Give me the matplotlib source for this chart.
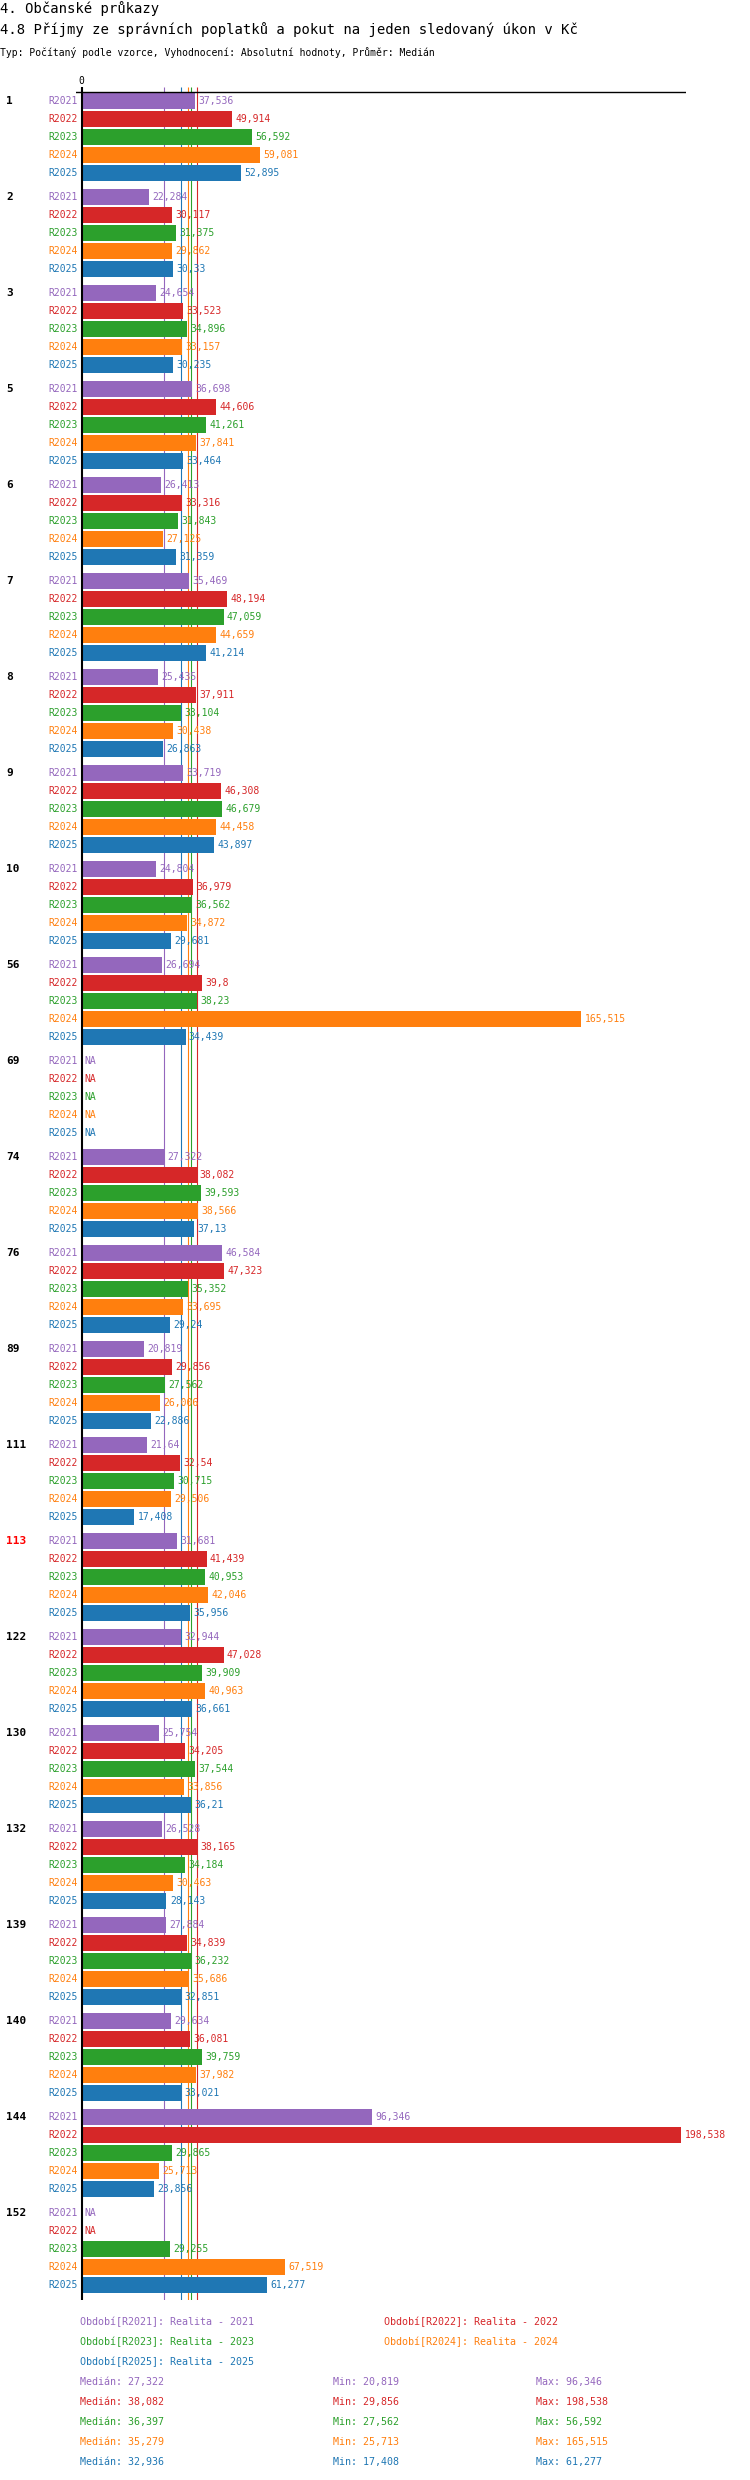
import numpy as np
import matplotlib
matplotlib.use('Agg')
import matplotlib.pyplot as plt

plt.rcParams['font.family'] = ['DejaVu Sans Mono']

# data
groups = ['1', '2', '3', '5', '6', '7', '8', '9', '10', '56', '69', '74', '76',
          '89', '111', '113', '122', '130', '132', '139', '140', '144', '152']
periods = ['R2021', 'R2022', 'R2023', 'R2024', 'R2025']
NA = None
r2021 = [37.536, 22.284, 24.654, 36.698, 26.413, 35.469, 25.435, 33.719, 24.804,
         26.694, NA, 27.322, 46.584, 20.819, 21.64, 31.681, 32.944, 25.754,
         26.528, 27.884, 29.634, 96.346, NA]
r2022 = [49.914, 30.117, 33.523, 44.606, 33.316, 48.194, 37.911, 46.308, 36.979,
         39.8, NA, 38.082, 47.323, 29.856, 32.54, 41.439, 47.028, 34.205,
         38.165, 34.839, 36.081, 198.538, NA]
r2023 = [56.592, 31.375, 34.896, 41.261, 31.843, 47.059, 33.104, 46.679, 36.562,
         38.23, NA, 39.593, 35.352, 27.562, 30.715, 40.953, 39.909, 37.544,
         34.184, 36.232, 39.759, 29.865, 29.255]
r2024 = [59.081, 29.862, 33.157, 37.841, 27.125, 44.659, 30.438, 44.458, 34.872,
         165.515, NA, 38.566, 33.695, 26.006, 29.506, 42.046, 40.963, 33.856,
         30.463, 35.686, 37.982, 25.713, 67.519]
r2025 = [52.895, 30.33, 30.235, 33.464, 31.359, 41.214, 26.863, 43.897, 29.681,
         34.439, NA, 37.13, 29.24, 22.886, 17.408, 35.956, 36.661, 36.21,
         28.143, 32.851, 33.021, 23.856, 61.277]
series = [r2021, r2022, r2023, r2024, r2025]

medians = [27.322, 38.082, 36.397, 35.279, 32.936]
mins = [20.819, 29.856, 27.562, 25.713, 17.408]
maxs = [96.346, 198.538, 56.592, 165.515, 61.277]
highlight = '113'

colors = ['#9467bd', '#d62728', '#2ca02c', '#ff7f0e', '#1f77b4']

W, H = 750, 2480
FIRST, GSTEP, BSTEP, BH = 100.7, 96.0, 18.0, 16.0


def fmt(v):
    return str(v).replace('.', ',')


def ftext(x, y, s, **kw):
    fig.text(x / W, 1 - y / H, s, **kw)


fig = plt.figure(figsize=(W / 100, H / 100), dpi=100)
ax = fig.add_axes([76 / W, 1 - 2300 / H, 610 / W, (2300 - 87) / H])
ax.set_xlim((76 - 81.5) / 3.02, (686 - 81.5) / 3.02)
ax.set_ylim(2300, 87)
ax.axis('off')

# median lines behind the bars
for med, c in zip(medians, colors):
    ax.vlines(med, 87, 2300, color=c, lw=0.8, zorder=1)

ax.axhline(92.3, color='black', lw=1.0, zorder=3)
ax.vlines(0, 87, 2300, color='black', lw=1.5, zorder=4)
ax.text(0, 81, '0', ha='center', va='center', fontsize=7)

for g, name in enumerate(groups):
    y0 = FIRST + g * GSTEP
    ax.text(-70 / 3.02 - 1.8, y0, name, ha='left', va='center', fontsize=8,
            fontweight='bold', color='#ff0000' if name == highlight else 'black',
            clip_on=False)
    for i, (vals, c) in enumerate(zip(series, colors)):
        y = y0 + i * BSTEP
        v = vals[g]
        ax.text(-4.2 / 3.02, y, periods[i], ha='right', va='center',
                fontsize=7, color=c, clip_on=False)
        if v is None:
            ax.text(1.0, y, 'NA', ha='left', va='center', fontsize=7, color=c)
            continue
        ax.barh(y, v, height=BH, left=0, color=c, zorder=2)
        ax.text(v + 1.1, y, fmt(v), ha='left', va='center', fontsize=7,
                color=c, clip_on=False)

ftext(0, 9, '4. Občanské průkazy', fontsize=10, va='center')
ftext(0, 30, '4.8 Příjmy ze správních poplatků a pokut na jeden sledovaný úkon v Kč',
      fontsize=10, va='center')
ftext(0, 52, 'Typ: Počítaný podle vzorce, Vyhodnocení: Absolutní hodnoty, Průměr: Medián',
      fontsize=7, va='center')

leg_pos = [(80.3, 2322), (383.6, 2322), (80.3, 2342), (383.6, 2342), (80.3, 2362)]
for p, c, (x, y) in zip(periods, colors, leg_pos):
    ftext(x, y, 'Období[%s]: Realita - %s' % (p, p[1:]), fontsize=7.2,
          color=c, va='center')

for i, c in enumerate(colors):
    y = 2382 + i * 20
    ftext(80.3, y, 'Medián: ' + fmt(medians[i]), fontsize=7.2, color=c, va='center')
    ftext(333.3, y, 'Min: ' + fmt(mins[i]), fontsize=7.2, color=c, va='center')
    ftext(535.6, y, 'Max: ' + fmt(maxs[i]), fontsize=7.2, color=c, va='center')

fig.savefig('out.png', dpi=100)
